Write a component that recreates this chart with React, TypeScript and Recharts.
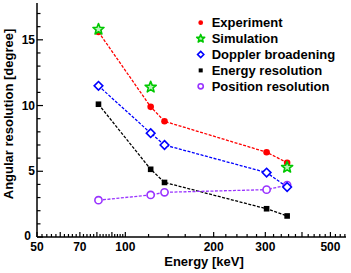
import React from "react"
import { ComposedChart, Line, XAxis, YAxis, Legend } from "recharts"

const energies = [81, 122, 136, 303, 356]
const experiment = [15.6, 9.9, 8.8, 6.45, 5.65]
const simEnergies = [81, 122, 356]
const simulation = [15.8, 11.4, 5.3]
const doppler = [11.5, 7.9, 7.0, 4.9, 3.8]
const energyRes = [10.1, 5.15, 4.15, 2.15, 1.6]
const position = [2.8, 3.2, 3.4, 3.6, 3.95]

const xLabels = [50, 70, 100, 200, 300, 500]
const xTicks = [
  50, 52, 54, 56, 58, 60, 62, 64, 66, 68, 70, 72, 74, 76, 78, 80, 82, 84, 86, 88, 90, 92, 94, 96, 98,
  100, 120, 140, 160, 180, 200, 220, 240, 260, 280, 300, 320, 340, 360, 380, 400, 420, 440, 460, 480, 500,
  520, 540, 560,
]
const yLabels = [0, 5, 10, 15]
const yTicks = [0, 1, 2, 3, 4, 5, 6, 7, 8, 9, 10, 11, 12, 13, 14, 15, 16, 17]

const RED = "#ff0000"
const GREEN = "#00c800"
const BLUE = "#0000ff"
const PURPLE = "#9933ff"

const toRows = (xs: number[], ys: number[]) => xs.map((e, i) => ({ e, v: ys[i] }))

const FONT = "'Liberation Sans', Arial, sans-serif"

function starPath(cx: number, cy: number, ro: number, ri: number) {
  let d = ""
  for (let i = 0; i < 10; i++) {
    const r = i % 2 === 0 ? ro : ri
    const a = -Math.PI / 2 + (i * Math.PI) / 5
    d += (i === 0 ? "M" : "L") + (cx + r * Math.cos(a)).toFixed(2) + "," + (cy + r * Math.sin(a)).toFixed(2)
  }
  return d + "Z"
}

// s scales the marker (legend uses smaller ones)
function Marker({ kind, cx, cy, s = 1 }: { kind: string; cx: number; cy: number; s?: number }) {
  if (kind === "exp") return <circle cx={cx} cy={cy} r={3.3 * s} fill={RED} />
  if (kind === "sim")
    return (
      <path
        d={starPath(cx, cy, 5.8 * s, 2.5 * s)}
        fill="#b8f0b8"
        stroke={GREEN}
        strokeWidth={1.6}
        strokeLinejoin="round"
      />
    )
  if (kind === "dop") {
    const h = 4.3 * s
    return (
      <polygon
        points={`${cx},${cy - h} ${cx + h},${cy} ${cx},${cy + h} ${cx - h},${cy}`}
        fill="#fff"
        stroke={BLUE}
        strokeWidth={1.6}
      />
    )
  }
  if (kind === "en") return <rect x={cx - 2.8 * s} y={cy - 2.8 * s} width={5.6 * s} height={5.6 * s} fill="#000" />
  return <circle cx={cx} cy={cy} r={3.6 * s} fill="#fff" stroke={PURPLE} strokeWidth={1.6} />
}

const dotOf = (kind: string) => (p: any) => <Marker key={kind + p.index} kind={kind} cx={p.cx} cy={p.cy} />

function XTick(props: any) {
  const { x, y, payload, top } = props
  const v = payload.value
  const labeled = xLabels.includes(v)
  const mid = v < 100 ? v % 10 === 0 : v % 100 === 0
  const len = labeled || mid ? 5 : 3
  const dir = top ? 1 : -1
  return (
    <g>
      <line x1={x} x2={x} y1={y} y2={y + dir * len} stroke="#000" strokeWidth={1.2} />
      {!top && labeled && (
        <text x={x} y={y + 14} textAnchor="middle" fontFamily={FONT} fontWeight="bold" fontSize={12} fill="#000">
          {v}
        </text>
      )}
    </g>
  )
}

function YTick(props: any) {
  const { x, y, payload, right } = props
  const v = payload.value
  const labeled = yLabels.includes(v)
  const len = labeled ? 6 : 3.5
  const dir = right ? -1 : 1
  return (
    <g>
      <line x1={x} x2={x + dir * len} y1={y} y2={y} stroke="#000" strokeWidth={1.2} />
      {!right && labeled && (
        <text
          x={v === 0 ? x - 6 : x - 2}
          y={v === 0 ? y + 2.5 : y + 4}
          textAnchor="end"
          fontFamily={FONT}
          fontWeight="bold"
          fontSize={12}
          fill="#000"
        >
          {v}
        </text>
      )}
    </g>
  )
}

const legendItems = [
  { kind: "exp", name: "Experiment" },
  { kind: "sim", name: "Simulation" },
  { kind: "dop", name: "Doppler broadening" },
  { kind: "en", name: "Energy resolution" },
  { kind: "pos", name: "Position resolution" },
]

function LegendBox() {
  return (
    <svg width={160} height={90} style={{ display: "block" }}>
      {legendItems.map((it, i) => (
        <g key={it.name}>
          <Marker kind={it.kind} cx={10.7} cy={10.7 + i * 15.9} s={0.72} />
          <text x={21.7} y={15.2 + i * 15.9} fontFamily={FONT} fontWeight="bold" fontSize={13} fill="#000">
            {it.name}
          </text>
        </g>
      ))}
    </svg>
  )
}

export default function App() {
  return (
    <div style={{ position: "fixed", left: 0, top: 0, width: 351, height: 273, background: "#fff" }}>
      <ComposedChart width={351} height={273} margin={{ top: 3, right: 5, left: 0, bottom: 0 }}>
        <XAxis
          xAxisId="b"
          dataKey="e"
          type="number"
          scale="log"
          domain={[50, 565]}
          allowDataOverflow
          ticks={xTicks}
          interval={0}
          tickSize={0}
          tickMargin={0}
          height={36}
          axisLine={{ stroke: "#000", strokeWidth: 1.5 }}
          tickLine={false}
          tick={<XTick />}
          label={{
            content: () => (
              <text x={204} y={266} textAnchor="middle" fontFamily={FONT} fontWeight="bold" fontSize={13} fill="#000">
                Energy [keV]
              </text>
            ),
          }}
        />
        <XAxis
          xAxisId="t"
          orientation="top"
          dataKey="e"
          type="number"
          scale="log"
          domain={[50, 565]}
          allowDataOverflow
          ticks={xTicks}
          interval={0}
          tickSize={0}
          tickMargin={0}
          height={0}
          axisLine={{ stroke: "#000", strokeWidth: 1.5 }}
          tickLine={false}
          tick={<XTick top />}
        />
        <YAxis
          yAxisId="l"
          type="number"
          domain={[0, 17.8]}
          allowDataOverflow
          ticks={yTicks}
          interval={0}
          tickSize={0}
          tickMargin={0}
          width={37}
          axisLine={{ stroke: "#000", strokeWidth: 1.5 }}
          tickLine={false}
          tick={<YTick />}
          label={{
            content: () => (
              <text
                x={13}
                y={114}
                transform="rotate(-90 13 114)"
                textAnchor="middle"
                fontFamily={FONT}
                fontWeight="bold"
                fontSize={13}
                fill="#000"
              >
                Angular resolution [degree]
              </text>
            ),
          }}
        />
        <YAxis
          yAxisId="r"
          orientation="right"
          type="number"
          domain={[0, 17.8]}
          allowDataOverflow
          ticks={yTicks}
          interval={0}
          tickSize={0}
          tickMargin={0}
          width={0}
          axisLine={{ stroke: "#000", strokeWidth: 1.5 }}
          tickLine={false}
          tick={<YTick right />}
        />
        <Line
          xAxisId="b"
          yAxisId="l"
          data={toRows(energies, energyRes)}
          dataKey="v"
          stroke="#000"
          strokeWidth={1.3}
          strokeDasharray="3 1.5"
          dot={dotOf("en")}
          isAnimationActive={false}
        />
        <Line
          xAxisId="b"
          yAxisId="l"
          data={toRows(energies, position)}
          dataKey="v"
          stroke={PURPLE}
          strokeWidth={1.3}
          strokeDasharray="3 1.5"
          dot={dotOf("pos")}
          isAnimationActive={false}
        />
        <Line
          xAxisId="b"
          yAxisId="l"
          data={toRows(energies, doppler)}
          dataKey="v"
          stroke={BLUE}
          strokeWidth={1.3}
          strokeDasharray="3 1.5"
          dot={dotOf("dop")}
          isAnimationActive={false}
        />
        <Line
          xAxisId="b"
          yAxisId="l"
          data={toRows(energies, experiment)}
          dataKey="v"
          stroke={RED}
          strokeWidth={1.3}
          strokeDasharray="3 1.5"
          dot={dotOf("exp")}
          isAnimationActive={false}
        />
        <Line
          xAxisId="b"
          yAxisId="l"
          data={toRows(simEnergies, simulation)}
          dataKey="v"
          stroke="none"
          dot={dotOf("sim")}
          isAnimationActive={false}
        />
        <Legend
          layout="vertical"
          align="center"
          verticalAlign="middle"
          content={() => <LegendBox />}
          wrapperStyle={{ position: "absolute", left: 190, top: 12, width: 160, height: 90 }}
        />
      </ComposedChart>
    </div>
  )
}
